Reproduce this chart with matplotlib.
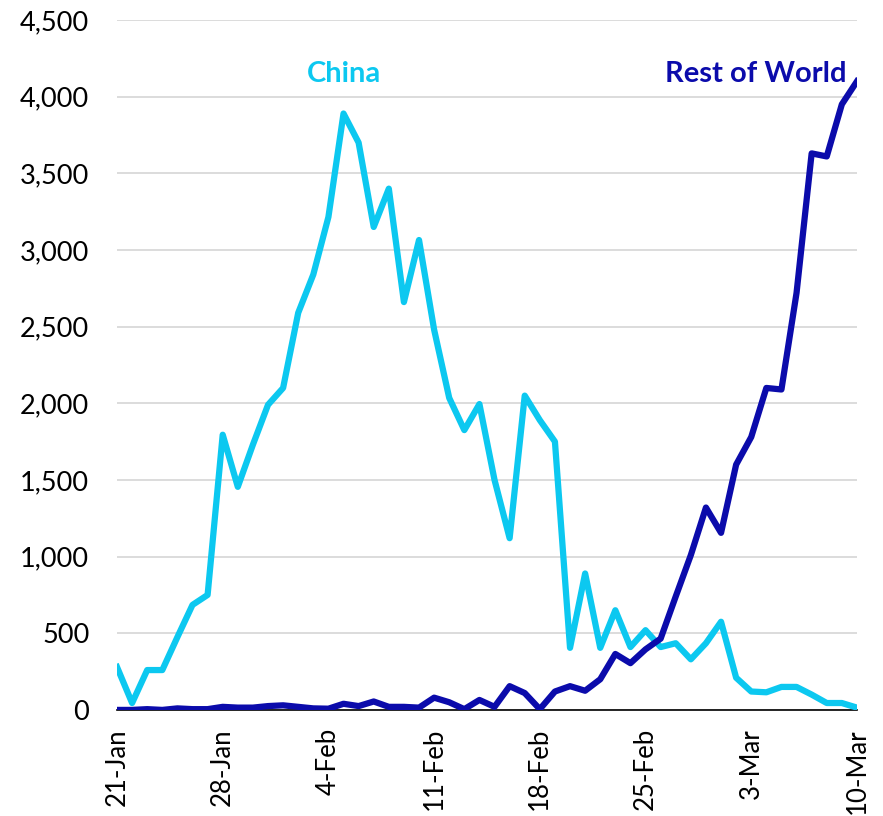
import numpy as np
import pandas as pd
import matplotlib
matplotlib.use('Agg')
import matplotlib.pyplot as plt
from matplotlib.ticker import FuncFormatter

plt.rcParams['font.family'] = ['Lato', 'DejaVu Sans']

# Daily new cases, 21-Jan to 10-Mar 2020
dates = pd.date_range('2020-01-21', '2020-03-10', freq='D')
china = [280, 45, 260, 260, 475, 685, 750, 1795, 1455, 1730,
         1990, 2100, 2590, 2840, 3215, 3890, 3700, 3150, 3400, 2660,
         3065, 2480, 2035, 1825, 1995, 1500, 1120, 2050, 1890, 1750,
         405, 890, 405, 650, 410, 520, 410, 435, 330, 435,
         575, 210, 120, 115, 150, 150, 100, 45, 45, 15]
rest_of_world = [0, 0, 5, 0, 10, 5, 5, 20, 15, 15,
                 25, 30, 20, 10, 8, 40, 25, 55, 20, 20,
                 15, 80, 50, 5, 65, 20, 155, 110, 5, 120,
                 155, 125, 200, 365, 305, 395, 465, 740, 1010, 1320,
                 1155, 1600, 1780, 2100, 2090, 2720, 3630, 3610, 3950, 4100]

tick_every = 7
china_color = '#0CC8F0'
row_color = '#0B0BAB'

x = np.arange(len(dates))

fig = plt.figure(figsize=(8.83, 8.16), dpi=100)
ax = fig.add_axes([0.1325, 0.13, 0.838, 0.8455])

ax.plot(x, china, color=china_color, linewidth=4.5, solid_joinstyle='round', zorder=3)
ax.plot(x, rest_of_world, color=row_color, linewidth=4.5, solid_joinstyle='round', zorder=4)

ax.set_xlim(0, len(dates) - 1)
ax.set_ylim(0, 4500)
ax.set_yticks(np.arange(0, 4501, 500))
ax.yaxis.set_major_formatter(FuncFormatter(lambda v, p: f'{int(v):,}'))

ticks = x[::tick_every]
ax.set_xticks(ticks)
ax.set_xticklabels([d.strftime('%-d-%b') for d in dates[::tick_every]], rotation=90)

ax.grid(axis='y', color='#D9D9D9', linewidth=1.3)
ax.set_axisbelow(True)
for side in ['top', 'right', 'left']:
    ax.spines[side].set_visible(False)
ax.spines['bottom'].set_color('black')
ax.spines['bottom'].set_linewidth(1.2)
ax.spines['bottom'].set_zorder(2)

ax.tick_params(axis='y', length=0, labelsize=19.5, colors='black', pad=20)
ax.tick_params(axis='x', length=0, labelsize=18.5, colors='black', pad=13)

# series labels
ax.text(15, 4150, 'China', color=china_color, fontsize=21, fontweight='bold',
        ha='center', va='center')
ax.text(42.3, 4150, 'Rest of World', color=row_color, fontsize=21, fontweight='bold',
        ha='center', va='center')

fig.savefig('out.png', dpi=100)
